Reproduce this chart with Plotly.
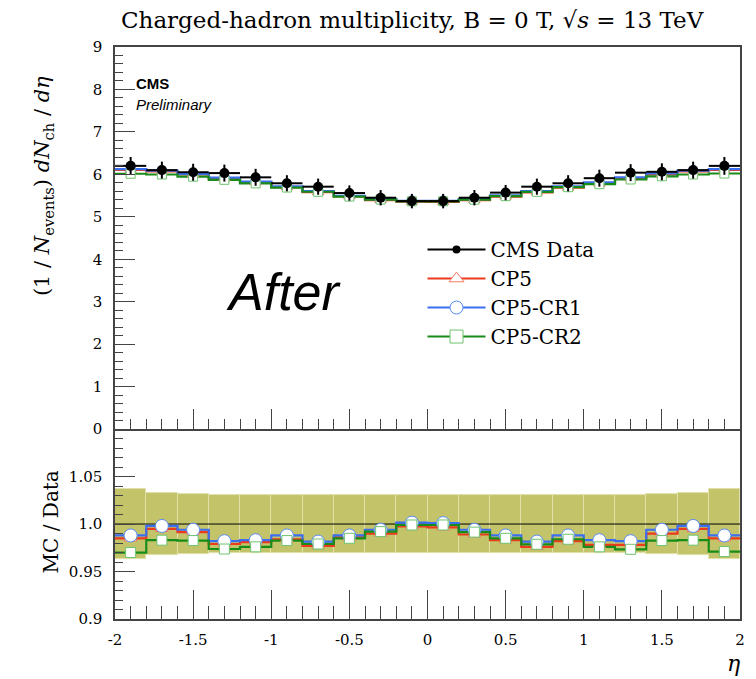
import plotly.graph_objects as go

# ---------------- data ----------------
eta_edges = [-2.0, -1.8, -1.6, -1.4, -1.2, -1.0, -0.8, -0.6, -0.4, -0.2, 0.0,
             0.2, 0.4, 0.6, 0.8, 1.0, 1.2, 1.4, 1.6, 1.8, 2.0]
eta_centers = [-1.9, -1.7, -1.5, -1.3, -1.1, -0.9, -0.7, -0.5, -0.3, -0.1,
               0.1, 0.3, 0.5, 0.7, 0.9, 1.1, 1.3, 1.5, 1.7, 1.9]
data_vals = [6.20, 6.10, 6.05, 6.03, 5.93, 5.79, 5.71, 5.56, 5.45, 5.37,
             5.37, 5.45, 5.57, 5.71, 5.79, 5.91, 6.04, 6.06, 6.10, 6.20]
data_err = [0.21, 0.20, 0.20, 0.20, 0.20, 0.19, 0.19, 0.18, 0.18, 0.17,
            0.17, 0.18, 0.18, 0.19, 0.19, 0.20, 0.20, 0.20, 0.20, 0.21]
ratio_cp5 = [0.985, 0.995, 0.9915, 0.979, 0.981, 0.984, 0.977, 0.986, 0.990, 0.9975,
             0.9965, 0.989, 0.983, 0.976, 0.982, 0.978, 0.978, 0.990, 0.995, 0.985]
ratio_cr1 = [0.988, 0.998, 0.994, 0.982, 0.983, 0.988, 0.9815, 0.988, 0.994, 1.0015,
             1.001, 0.994, 0.988, 0.9815, 0.988, 0.983, 0.982, 0.994, 0.998, 0.988]
ratio_cr2 = [0.970, 0.983, 0.9826, 0.9737, 0.976, 0.9826, 0.979, 0.985, 0.992, 0.999,
             0.999, 0.9915, 0.985, 0.9787, 0.984, 0.976, 0.9734, 0.9826, 0.983, 0.971]
band_half = [0.0365, 0.033, 0.032, 0.031, 0.031, 0.031, 0.031, 0.031, 0.031, 0.031,
             0.031, 0.031, 0.031, 0.031, 0.031, 0.031, 0.031, 0.032, 0.033, 0.0365]

mc_cp5 = [d * r for d, r in zip(data_vals, ratio_cp5)]
mc_cr1 = [d * r for d, r in zip(data_vals, ratio_cr1)]
mc_cr2 = [d * r for d, r in zip(data_vals, ratio_cr2)]

RED = "rgb(236,58,28)"
BLUE = "rgb(60,110,240)"
GREEN = "rgb(24,140,24)"
RED_M = "rgb(245,120,100)"
BLUE_M = "rgb(90,140,245)"
GREEN_M = "rgb(110,195,110)"
SERIF = "DejaVu Serif"

fig = go.Figure()

# ratio band
fig.add_trace(go.Bar(
    x=eta_centers, y=[2 * h for h in band_half], base=[1 - h for h in band_half],
    width=0.2, marker=dict(color="rgb(195,195,105)", line=dict(color="rgb(225,225,170)", width=1)),
    xaxis="x2", yaxis="y2", showlegend=False, hoverinfo="skip"))

# reference line at 1
fig.add_trace(go.Scatter(x=[-2, 2], y=[1, 1], mode="lines", line=dict(color="black", width=1),
                         xaxis="x2", yaxis="y2", showlegend=False, hoverinfo="skip"))

series = [
    (mc_cp5, ratio_cp5, RED, RED_M, "triangle-up", 10, 11, "CP5"),
    (mc_cr1, ratio_cr1, BLUE, BLUE_M, "circle", 10, 13, "CP5-CR1"),
    (mc_cr2, ratio_cr2, GREEN, GREEN_M, "square", 9, 10, "CP5-CR2"),
]

for mc, rat, lc, mcol, sym, s_top, s_bot, name in series:
    fig.add_trace(go.Scatter(x=eta_edges, y=mc + [mc[-1]], mode="lines", line=dict(color=lc, width=2.2, shape="hv"),
                             xaxis="x", yaxis="y", showlegend=False, hoverinfo="skip"))
    fig.add_trace(go.Scatter(x=eta_edges, y=rat + [rat[-1]], mode="lines", line=dict(color=lc, width=2.2, shape="hv"),
                             xaxis="x2", yaxis="y2", showlegend=False, hoverinfo="skip"))
for mc, rat, lc, mcol, sym, s_top, s_bot, name in series:
    fig.add_trace(go.Scatter(x=eta_centers, y=mc, mode="markers",
                             marker=dict(symbol=sym, size=s_top, color="white", line=dict(color=mcol, width=1)),
                             xaxis="x", yaxis="y", showlegend=False))
    fig.add_trace(go.Scatter(x=eta_centers, y=rat, mode="markers",
                             marker=dict(symbol=sym, size=s_bot, color="white", line=dict(color=mcol, width=1)),
                             xaxis="x2", yaxis="y2", showlegend=False))

# data
fig.add_trace(go.Scatter(
    x=eta_centers, y=data_vals, mode="markers",
    marker=dict(symbol="circle", size=10, color="black"),
    error_y=dict(type="data", array=data_err, color="black", thickness=2, width=0),
    error_x=dict(type="constant", value=0.1, color="black", thickness=2, width=0),
    xaxis="x", yaxis="y", showlegend=False))

# legend entries
fig.add_trace(go.Scatter(x=[None], y=[None], mode="lines+markers", name="CMS Data",
                         line=dict(color="black", width=2), marker=dict(color="black", size=8)))
for mc, rat, lc, mcol, sym, s_top, s_bot, name in series:
    fig.add_trace(go.Scatter(x=[None], y=[None], mode="lines+markers", name=name,
                             line=dict(color=lc, width=2),
                             marker=dict(symbol=sym, size=13, color="white", line=dict(color=mcol, width=1))))

axis_common = dict(showline=True, linecolor="#444", linewidth=1.5, showgrid=False,
                   zeroline=False, ticks="inside", tickcolor="#444",
                   tickfont=dict(family=SERIF, size=15, color="black"))

fig.update_layout(
    width=756, height=679,
    margin=dict(l=115, r=11, t=47, b=60),
    paper_bgcolor="white", plot_bgcolor="white",
    bargap=0,
    xaxis=dict(domain=[0, 1], anchor="y", range=[-2, 2], showticklabels=False, mirror=True,
               dtick=0.5, ticklen=20, minor=dict(dtick=0.1, ticklen=10, ticks="inside", tickcolor="#444"),
               **axis_common),
    yaxis=dict(domain=[0.332, 1], anchor="x", range=[0, 9], dtick=1, ticklen=20, mirror=True,
               ticklabelstandoff=8,
               minor=dict(dtick=0.2, ticklen=8, ticks="inside", tickcolor="#444"), **axis_common),
    xaxis2=dict(domain=[0, 1], anchor="y2", range=[-2, 2], matches="x", mirror=False,
                tickvals=[-2, -1.5, -1, -0.5, 0, 0.5, 1, 1.5, 2],
                ticktext=["-2", "-1.5", "-1", "-0.5", "0", "0.5", "1", "1.5", "2"],
                ticklen=29, ticklabelstandoff=6,
                minor=dict(dtick=0.1, ticklen=13, ticks="inside", tickcolor="#444"), **axis_common),
    yaxis2=dict(domain=[0, 0.332], anchor="x2", range=[0.9, 1.1], mirror=True,
                tickvals=[0.9, 0.95, 1.0, 1.05, 1.1], ticktext=["0.9", "0.95", "1.0", "1.05", ""],
                ticklen=20, ticklabelstandoff=8,
                minor=dict(dtick=0.01, ticklen=8, ticks="inside", tickcolor="#444"), **axis_common),
    legend=dict(x=0.492, y=0.68, xanchor="left", yanchor="top", bgcolor="rgba(0,0,0,0)",
                font=dict(family=SERIF, size=20, color="black"), itemwidth=58, tracegroupgap=0),
    showlegend=True,
)

fig.add_annotation(text="Charged-hadron multiplicity, B = 0 T, √<i>s</i> = 13 TeV",
                   xref="paper", yref="paper", x=0.476, y=1.047, xanchor="center", yanchor="middle",
                   showarrow=False, font=dict(family=SERIF, size=23, color="black"))
fig.add_annotation(text="(1 / <i>N</i><sub>events</sub>) <i>dN</i><sub>ch</sub> / <i>dη</i>",
                   xref="paper", yref="paper", x=-0.115, y=0.757, xanchor="center", yanchor="middle",
                   textangle=-90, showarrow=False,
                   font=dict(family=SERIF, size=21, color="black"))
fig.add_annotation(text="MC / Data", xref="paper", yref="paper", x=-0.103, y=0.17,
                   xanchor="center", yanchor="middle", textangle=-90,
                   showarrow=False, font=dict(family=SERIF, size=20, color="black"))
fig.add_annotation(text="<i>η</i>", xref="paper", yref="paper", x=0.99, y=-0.077,
                   xanchor="center", yanchor="middle", showarrow=False,
                   font=dict(family=SERIF, size=22, color="black"))
fig.add_annotation(text="<b>CMS</b>", xref="paper", yref="paper", x=0.03, y=0.937,
                   xanchor="left", yanchor="middle",
                   showarrow=False, font=dict(family="Liberation Sans", size=15, color="black"))
fig.add_annotation(text="<i>Preliminary</i>", xref="paper", yref="paper", x=0.03, y=0.9,
                   xanchor="left", yanchor="middle",
                   showarrow=False, font=dict(family="Liberation Sans", size=15, color="black"))
fig.add_annotation(text="<i>After</i>", xref="paper", yref="paper", x=0.27, y=0.572,
                   xanchor="center", yanchor="middle", showarrow=False,
                   font=dict(family="Liberation Sans", size=52, color="black"))

fig.write_html("out.html")
